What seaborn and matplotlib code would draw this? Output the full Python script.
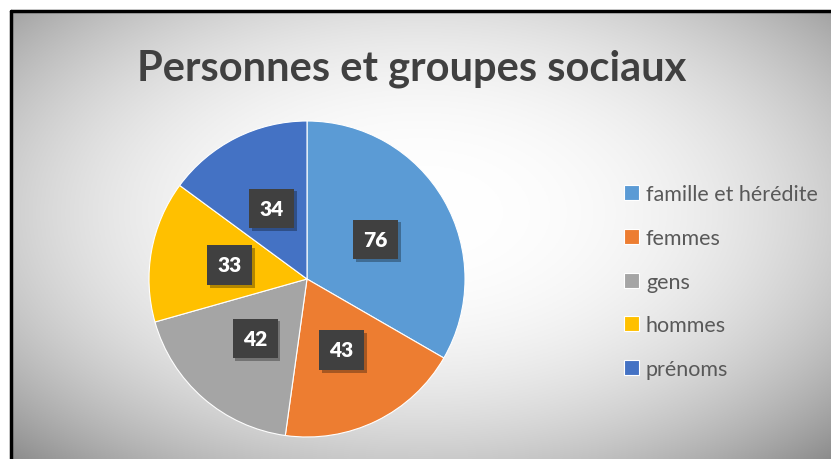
import numpy as np
import matplotlib
matplotlib.use("Agg")
import matplotlib.pyplot as plt
import matplotlib.patheffects as pe
import seaborn as sns

# Données
categories = ["famille et hérédite", "femmes", "gens", "hommes", "prénoms"]
valeurs = [76, 43, 42, 33, 34]
couleurs = ["#5B9BD5", "#ED7D31", "#A5A5A5", "#FFC000", "#4472C4"]
titre = "Personnes et groupes sociaux"

sns.set_theme(style="white")
plt.rcParams['font.family'] = ['Lato', 'DejaVu Sans']

W, H = 831, 460
fig = plt.figure(figsize=(W / 100, H / 100), dpi=100)
fig.patch.set_facecolor("white")

# Fond dégradé radial (zone du graphique)
x0, y0 = 11, 12
bg = fig.add_axes([x0 / W, 0, 1 - x0 / W, 1 - y0 / H])
xx, yy = np.meshgrid(np.linspace(-1, 1, 400), np.linspace(-1, 1, 220))
r = np.sqrt((xx * 0.9) ** 2 + ((yy + 0.1) * 0.85) ** 2)
g = 1.0 - 0.24 * np.clip(r, 0, 1.4) ** 2.4
bg.imshow(np.dstack([g, g, g]), aspect="auto", extent=[0, 1, 0, 1], origin="upper")
bg.set_xlim(0, 1)
bg.set_ylim(0, 1)
bg.axis("off")

# Cadre noir (gauche et haut)
fig.add_artist(plt.Line2D([x0 / W, x0 / W], [0, 1 - y0 / H], color="black", lw=2.5,
                          transform=fig.transFigure))
fig.add_artist(plt.Line2D([x0 / W, 1], [1 - y0 / H, 1 - y0 / H], color="black", lw=2.5,
                          transform=fig.transFigure))

# Camembert
cx, cy, rad = 307, 280, 158
ax = fig.add_axes([(cx - rad) / W, (H - cy - rad) / H, 2 * rad / W, 2 * rad / H])
wedges, _ = ax.pie(valeurs, colors=couleurs, startangle=90, counterclock=False,
                   radius=1.0, wedgeprops=dict(linewidth=0.8, edgecolor="white"))
ax.set_xlim(-1, 1)
ax.set_ylim(-1, 1)
ax.set_aspect("equal")

total = sum(valeurs)
angle = 90.0
for v in valeurs:
    mid = np.deg2rad(angle - v / total * 360 / 2)
    angle -= v / total * 360
    tx, ty = 0.5 * np.cos(mid), 0.5 * np.sin(mid)
    t = ax.text(tx, ty, str(v), ha="center", va="center", fontsize=15, fontweight="heavy",
                color="white", bbox=dict(boxstyle="square,pad=0.5", fc="#404040", ec="none"))
    t.get_bbox_patch().set_path_effects([
        pe.SimplePatchShadow(offset=(2, -2), shadow_rgbFace="black", alpha=0.3), pe.Normal()])

# Titre
fig.text(412 / W, 1 - 69 / H, titre, ha="center", va="center", fontsize=30,
         fontweight="bold", color="#404040")

# Légende
leg = fig.legend(wedges, categories, loc="upper left", bbox_to_anchor=(605 / W, 1 - 166 / H),
                 frameon=False, fontsize=15.5, labelspacing=1.1, handlelength=0.7,
                 handleheight=0.7, handletextpad=0.3)
for t in leg.get_texts():
    t.set_color("#595959")

fig.savefig("out.png", dpi=100)
